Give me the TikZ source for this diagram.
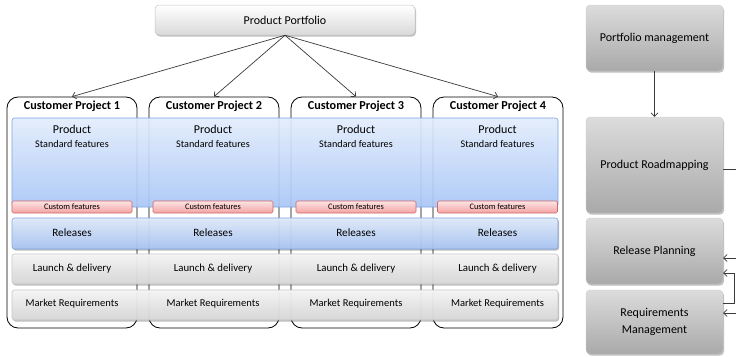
\documentclass[tikz,border=0pt]{standalone}
\usepackage{fontspec}
\setmainfont{Carlito}
\usetikzlibrary{arrows.meta,shadows}

\definecolor{lineC}{HTML}{3A3A3A}
\definecolor{blueTop}{HTML}{E2ECFC}
\definecolor{blueBot}{HTML}{A8C6F6}
\definecolor{blueEdge}{HTML}{7FA3DC}
\definecolor{redTop}{HTML}{FDE4E4}
\definecolor{redBot}{HTML}{F3A3A3}
\definecolor{redEdge}{HTML}{D0676A}
\definecolor{greyTop}{HTML}{F7F7F7}
\definecolor{greyBot}{HTML}{D9D9D9}
\definecolor{greyEdge}{HTML}{C4C4C4}
\definecolor{darkTop}{HTML}{DCDCDC}
\definecolor{darkBot}{HTML}{A9A9A9}

\tikzset{
  softshadow/.style={drop shadow={shadow xshift=1pt,shadow yshift=-1.5pt,opacity=0.25,fill=black}},
  projbox/.style={draw=black,line width=0.8pt,rounded corners=11pt,minimum width=130pt,minimum height=231pt,inner sep=0pt},
  projtitle/.style={font=\fontsize{12.2}{14}\selectfont\bfseries,inner sep=0pt},
  blueband/.style={draw=blueEdge,line width=0.6pt,rounded corners=2.5pt,top color=blueTop,bottom color=blueBot,fill opacity=0.92,minimum width=546pt,inner sep=0pt},
  greyband/.style={draw=greyEdge,line width=0.6pt,rounded corners=2.5pt,top color=greyTop,bottom color=greyBot,fill opacity=0.94,minimum width=546pt,minimum height=30pt,inner sep=0pt,softshadow},
  custombox/.style={draw=redEdge,line width=0.6pt,rounded corners=1.5pt,top color=redTop,bottom color=redBot,minimum width=120pt,minimum height=12pt,inner sep=0pt,font=\fontsize{8.4}{9}\selectfont},
  procbox/.style={draw=greyEdge!80,line width=0.4pt,rounded corners=4pt,top color=darkTop,bottom color=darkBot,minimum width=137pt,inner sep=0pt,align=center,font=\fontsize{12}{17}\selectfont,softshadow},
  conn/.style={draw=lineC,line width=0.7pt,-{Straight Barb[length=3.5pt,width=7pt]}},
  plainconn/.style={draw=lineC,line width=0.7pt},
}

\begin{document}
\begin{tikzpicture}[x=1pt,y=-1pt]
\useasboundingbox (0,0) rectangle (736,356);

% product portfolio box
\node[draw=greyEdge,line width=0.5pt,rounded corners=4pt,top color=white,bottom color=greyBot,
      minimum width=260pt,minimum height=30pt,inner sep=0pt,font=\fontsize{12}{14}\selectfont,softshadow]
      (pp) at (285,20) {Product Portfolio};

% customer project outlines
\foreach \i/\x in {1/72,2/214,3/356,4/498}{
  \node[projbox] (cp\i) at (\x,212.5) {};
  \node[projtitle] (cpt\i) at (\x,106) {Customer Project \i};
}

% horizontal bands across all projects
\node[blueband,minimum height=89pt] (prod) at (285,162.5) {};
\node[blueband,minimum height=31pt,softshadow] (rel) at (285,233.5) {};
\node[greyband] (launch) at (285,269) {};
\node[greyband] (market) at (285,305) {};

% per-project contents
\foreach \i/\x in {1/72,2/213,3/356,4/497.5}{
  \node[inner sep=0pt,font=\fontsize{12}{14}\selectfont] (prodt\i) at (\x,129.5) {Product};
  \node[inner sep=0pt,font=\fontsize{10.2}{12}\selectfont] (std\i) at (\x,143.5) {Standard features};
  \node[custombox] (cf\i) at (\x,207) {Custom features};
  \node[inner sep=0pt,font=\fontsize{11.2}{13}\selectfont] (relt\i) at (\x,232.5) {Releases};
  \node[inner sep=0pt,font=\fontsize{10.8}{13}\selectfont] (lt\i) at (\x,268.5) {Launch \& delivery};
  \node[inner sep=0pt,font=\fontsize{10.5}{12}\selectfont] (mt\i) at (\x,304) {Market Requirements};
}

% portfolio to projects
\foreach \i in {1,2,3,4}{
  \draw[conn] (pp.south) -- (cp\i.north);
}

% management processes
\node[procbox,minimum height=66pt] (pm) at (654.5,38) {Portfolio management};
\node[procbox,minimum height=96pt] (prm) at (654.5,165) {Product Roadmapping};
\node[procbox,minimum height=66pt] (rp) at (654.5,251) {Release Planning};
\node[procbox,minimum height=64pt] (rm) at (654.5,322) {Requirements\\Management};

\draw[conn] (pm.south) -- (prm.north);

\coordinate (e1) at (736,169.5);
\coordinate (e2) at (736,258);
\coordinate (e3) at (736,313);
\coordinate (j1) at (734,303);

\draw[plainconn] (prm.east |- e1) -- (e1);
\draw[conn] (e2) -- (rp.east |- e2);
\draw[conn] (rm.east |- j1) -- (j1) |- (rp.east |- 0,273);
\draw[conn] (e3) -- (rm.east |- e3);
\end{tikzpicture}
\end{document}
